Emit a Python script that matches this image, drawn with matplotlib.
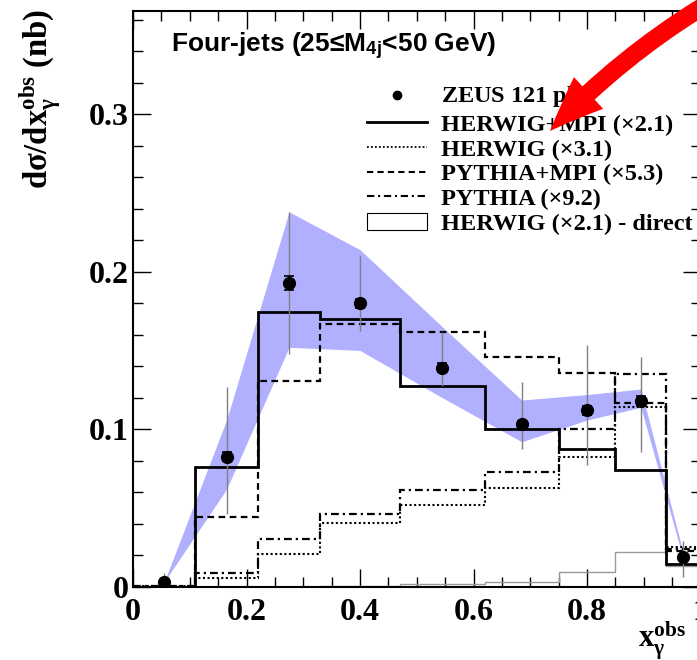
import matplotlib
matplotlib.use('Agg')
import matplotlib.pyplot as plt
from matplotlib.lines import Line2D
from matplotlib.patches import Patch, FancyArrowPatch
from matplotlib.ticker import MultipleLocator, FuncFormatter
from matplotlib.font_manager import FontProperties

plt.rcParams['mathtext.fontset'] = 'custom'
plt.rcParams['mathtext.rm'] = 'Liberation Serif:bold'
plt.rcParams['mathtext.it'] = 'Liberation Serif:bold'
plt.rcParams['mathtext.bf'] = 'Liberation Serif:bold'
plt.rcParams['mathtext.sf'] = 'Liberation Sans:bold'

# ---------------- data ----------------
edges = [0.0, 0.11, 0.22, 0.33, 0.47, 0.62, 0.75, 0.85, 0.94, 1.0]
x_data = [0.055, 0.165, 0.275, 0.40, 0.545, 0.685, 0.80, 0.895, 0.97]
y_data = [0.003, 0.0825, 0.193, 0.180, 0.139, 0.1035, 0.112, 0.118, 0.0187]
stat_err = [0.001, 0.003, 0.0045, 0.0028, 0.003, 0.002, 0.003, 0.003, 0.001]
syst_lo = [0.0, 0.0460, 0.148, 0.1626, 0.1274, 0.0872, 0.0773, 0.0857, 0.006]
syst_hi = [0.0087, 0.127, 0.238, 0.2106, 0.162, 0.130, 0.1535, 0.146, 0.029]
band_lo = [0.003, 0.062, 0.152, 0.150, 0.120, 0.092, 0.1058, 0.1139, 0.017]
band_hi = [0.003, 0.106, 0.238, 0.214, 0.165, 0.1185, 0.122, 0.1255, 0.021]

herwig_mpi = [0.0, 0.0762, 0.1746, 0.1698, 0.1274, 0.1001, 0.0872, 0.0741, 0.0145]
herwig = [0.0005, 0.0057, 0.0206, 0.0406, 0.0519, 0.0625, 0.0825, 0.1143, 0.0254]
pythia_mpi = [0.0, 0.0444, 0.1306, 0.1668, 0.162, 0.146, 0.1358, 0.1168, 0.0229]
pythia = [0.0005, 0.0089, 0.030, 0.0462, 0.0614, 0.073, 0.0999, 0.135, 0.024]
herwig_direct = [0.0, 0.0, 0.0, 0.0005, 0.0015, 0.0032, 0.0095, 0.0218, 0.0131]

labels = ["ZEUS 121 pb$^{-1}$", "HERWIG+MPI (×2.1)", "HERWIG (×3.1)",
          "PYTHIA+MPI (×5.3)", "PYTHIA (×9.2)", "HERWIG (×2.1) - direct"]
title = "Four-jets (25≤M$_{\\mathsf{4j}}$<50 GeV)"

W, H = 697, 660
fig = plt.figure(figsize=(W / 100, H / 100), dpi=100)
ax = fig.add_axes([133 / W, 73.3 / H, 567.5 / W, 575.7 / H])

# band
ax.fill_between(x_data, band_lo, band_hi, color='#b0b0ff', lw=0, zorder=1)

# histograms
ax.stairs(herwig_direct, edges, baseline=None, color='#999999', lw=1.0, zorder=2)
ax.stairs(herwig, edges, baseline=None, color='k', lw=1.5, ls=(0, (1, 1.2)), zorder=3)
ax.stairs(pythia, edges, baseline=None, color='k', lw=1.6, ls=(0, (3.5, 1.8, 1, 1.8)), zorder=3)
ax.stairs(pythia_mpi, edges, baseline=None, color='k', lw=1.6, ls=(0, (3, 2)), zorder=3)
ax.stairs(herwig_mpi, edges, baseline=None, color='k', lw=2.0, zorder=4)

# data
ax.vlines(x_data, syst_lo, syst_hi, color='#808080', lw=1.0, zorder=5)
ax.errorbar(x_data, y_data, yerr=stat_err, fmt='o', color='k', ms=8.5,
            capsize=3.5, elinewidth=1.5, capthick=1.2, zorder=6)

ax.set_xlim(0, 1)
ax.set_ylim(0, 0.3655)
for s in ax.spines.values():
    s.set_linewidth(1.5)
ax.xaxis.set_major_locator(MultipleLocator(0.2))
ax.xaxis.set_minor_locator(MultipleLocator(0.05))
ax.yaxis.set_major_locator(MultipleLocator(0.1))
ax.yaxis.set_minor_locator(MultipleLocator(0.02))
fmt = FuncFormatter(lambda v, p: ('%g' % round(v, 3)))
ax.xaxis.set_major_formatter(fmt)
ax.yaxis.set_major_formatter(fmt)
ax.tick_params(which='both', direction='in', top=True, right=True, width=1.0)
ax.tick_params(which='major', length=13)
ax.tick_params(which='minor', length=7)
ax.tick_params(axis='x', which='major', pad=8)
ax.tick_params(axis='y', which='major', pad=3)
for lab in ax.get_xticklabels() + ax.get_yticklabels():
    lab.set_fontfamily('Liberation Serif')
    lab.set_fontweight('bold')
    lab.set_fontsize(23)

# axis titles
fig.text(40 / W, (H - 9) / H, "dσ/dx$_{\\gamma}^{\\mathbf{obs}}$ (nb)", rotation=90,
         ha='center', va='top', fontsize=23.5, fontweight='bold', family='Liberation Serif')
fig.text(686 / W, (H - 647) / H, "x$_{\\gamma}^{\\mathbf{obs}}$", ha='right', va='baseline',
         fontsize=22, fontweight='bold', family='Liberation Serif')

# title text
fig.text(171 / W, (H - 52) / H, title, ha='left', va='baseline', fontsize=19,
         fontweight='bold', family=['Liberation Sans', 'DejaVu Sans'])

# legend
handles = [
    Line2D([], [], marker='o', ls='none', color='k', ms=6),
    Line2D([], [], color='k', lw=2.0),
    Line2D([], [], color='k', lw=1.3, ls=(0, (1, 1.2))),
    Line2D([], [], color='k', lw=1.5, ls=(0, (3, 2))),
    Line2D([], [], color='k', lw=1.5, ls=(0, (3.5, 1.8, 1, 1.8))),
    Patch(facecolor='white', edgecolor='black', lw=0.8),
]
leg = ax.legend(handles, labels, loc='upper left',
                bbox_to_anchor=(367 / W, (H - 83) / H), bbox_transform=fig.transFigure,
                frameon=False, prop=FontProperties(family='Liberation Serif', weight='bold', size=17.5),
                handlelength=2.47, handletextpad=0.58, labelspacing=0.11, borderpad=0,
                borderaxespad=0, numpoints=1, handleheight=0.7)
leg.set_zorder(10)

# red arrow annotation
arr = FancyArrowPatch(posA=(740, H + 15), posB=(550, H - 131), transform=None,
                      arrowstyle='simple,head_width=31,head_length=39,tail_width=13',
                      connectionstyle='arc3,rad=0.08', color='#ff0000', lw=0,
                      mutation_scale=1, shrinkA=0, shrinkB=0, zorder=20)
fig.patches.append(arr)

fig.savefig('out.png', dpi=100)
